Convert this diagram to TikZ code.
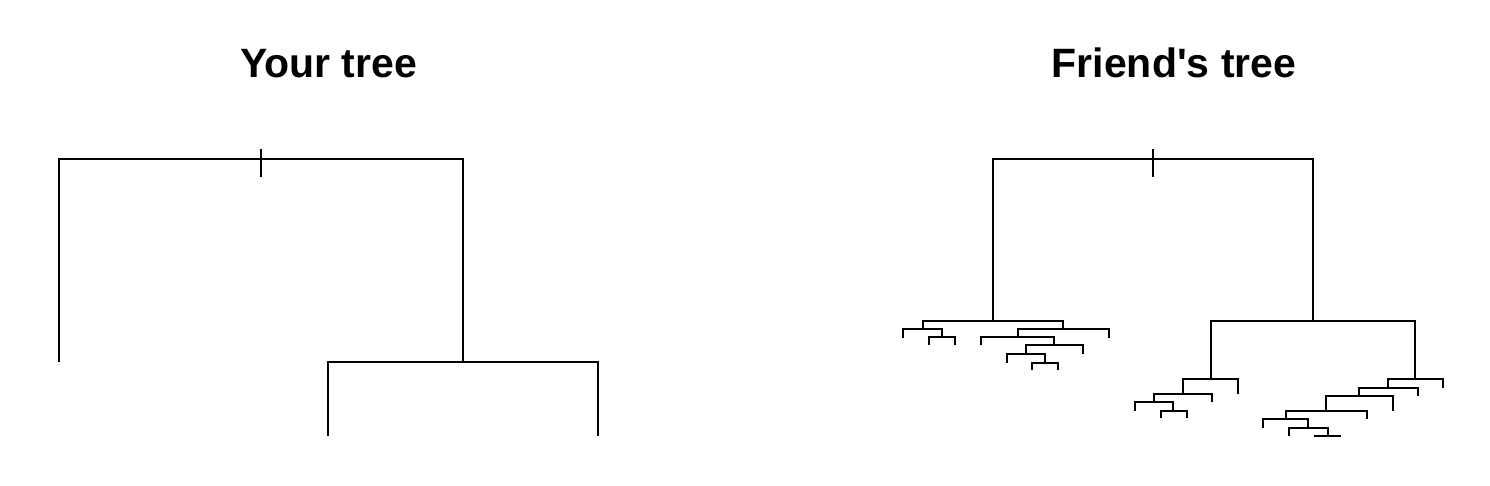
\documentclass[tikz,border=0pt]{standalone}
\usepackage{fontspec}
\setmainfont{Liberation Sans}
\begin{document}
\begin{tikzpicture}[x=1pt,y=-1pt,
  branch/.style={draw=black,line width=2pt,line join=miter},
  title/.style={font=\fontsize{41}{49}\selectfont\bfseries,anchor=base,inner sep=0pt}]
\useasboundingbox (0,0) rectangle (1490,486);
% titles
\node[title] (t1) at (328.5,77.5) {Your tree};
\node[title] (t2) at (1174,77.5) {Friend\textquotesingle s tree};
% ---------- your tree ----------
\coordinate (L) at (261,159);
\coordinate (La) at (59,362);
\coordinate (Lb) at (463,362);
\coordinate (Lb1) at (328,436);
\coordinate (Lb2) at (598,436);
\coordinate (Lt1) at (261,149);
\coordinate (Lt2) at (261,177);
\draw[branch] (La) |- (L) -| (Lb);
\draw[branch] (Lb1) |- (Lb) -| (Lb2);
\draw[branch] (Lt1) -- (Lt2);
% ---------- friend's tree ----------
\coordinate (R) at (1153,159);
\coordinate (Rt1) at (1153,149);
\coordinate (Rt2) at (1153,177);
\coordinate (A) at (993,321);
\coordinate (B) at (1313,321);
% A subtree
\coordinate (A1) at (923,329);
\coordinate (A2) at (1063,329);
\coordinate (A1a) at (903,337.5);
\coordinate (A11) at (942,337);
\coordinate (A11a) at (929,345);
\coordinate (A11b) at (955,345);
\coordinate (A21) at (1018,337);
\coordinate (A2b) at (1109,337.5);
\coordinate (A21a) at (981,345);
\coordinate (A211) at (1054,345);
\coordinate (A2111) at (1026,354);
\coordinate (A211b) at (1083,354);
\coordinate (A2111a) at (1007,362.5);
\coordinate (A21111) at (1045,362.5);
\coordinate (A21111a) at (1032,370);
\coordinate (A21111b) at (1058,370);
% B subtree
\coordinate (B1) at (1211,379);
\coordinate (B2) at (1415,379);
\coordinate (B11) at (1183,394);
\coordinate (B1b) at (1238,394);
\coordinate (B111) at (1154,402);
\coordinate (B11b) at (1212,402);
\coordinate (B111a) at (1135,410.5);
\coordinate (B1111) at (1173,410.5);
\coordinate (B1111a) at (1161,418.3);
\coordinate (B1111b) at (1187,418.3);
\coordinate (B21) at (1388,388);
\coordinate (B2b) at (1443,388);
\coordinate (B211) at (1359,396);
\coordinate (B21b) at (1418,396);
\coordinate (B2111) at (1326,411);
\coordinate (B211b) at (1393,411);
\coordinate (B21111) at (1286,419.3);
\coordinate (B2111b) at (1367,419.3);
\coordinate (B21111a) at (1263,427.7);
\coordinate (B211111) at (1308,427.7);
\coordinate (B211111a) at (1289,435.5);
\coordinate (B2111111) at (1327.5,435.5);
\coordinate (B2111111a) at (1314,435.5);
\coordinate (B2111111b) at (1341,435.5);
% draw
\draw[branch] (Rt1) -- (Rt2);
\draw[branch] (A) |- (R) -| (B);
\draw[branch] (A1) |- (A) -| (A2);
\draw[branch] (A1a) |- (A1) -| (A11);
\draw[branch] (A11a) |- (A11) -| (A11b);
\draw[branch] (A21) |- (A2) -| (A2b);
\draw[branch] (A21a) |- (A21) -| (A211);
\draw[branch] (A2111) |- (A211) -| (A211b);
\draw[branch] (A2111a) |- (A2111) -| (A21111);
\draw[branch] (A21111a) |- (A21111) -| (A21111b);
\draw[branch] (B1) |- (B) -| (B2);
\draw[branch] (B11) |- (B1) -| (B1b);
\draw[branch] (B111) |- (B11) -| (B11b);
\draw[branch] (B111a) |- (B111) -| (B1111);
\draw[branch] (B1111a) |- (B1111) -| (B1111b);
\draw[branch] (B21) |- (B2) -| (B2b);
\draw[branch] (B211) |- (B21) -| (B21b);
\draw[branch] (B2111) |- (B211) -| (B211b);
\draw[branch] (B21111) |- (B2111) -| (B2111b);
\draw[branch] (B21111a) |- (B21111) -| (B211111);
\draw[branch] (B211111a) |- (B211111) -| (B2111111);
\draw[branch] (B2111111a) -- (B2111111b);
\end{tikzpicture}
\end{document}
